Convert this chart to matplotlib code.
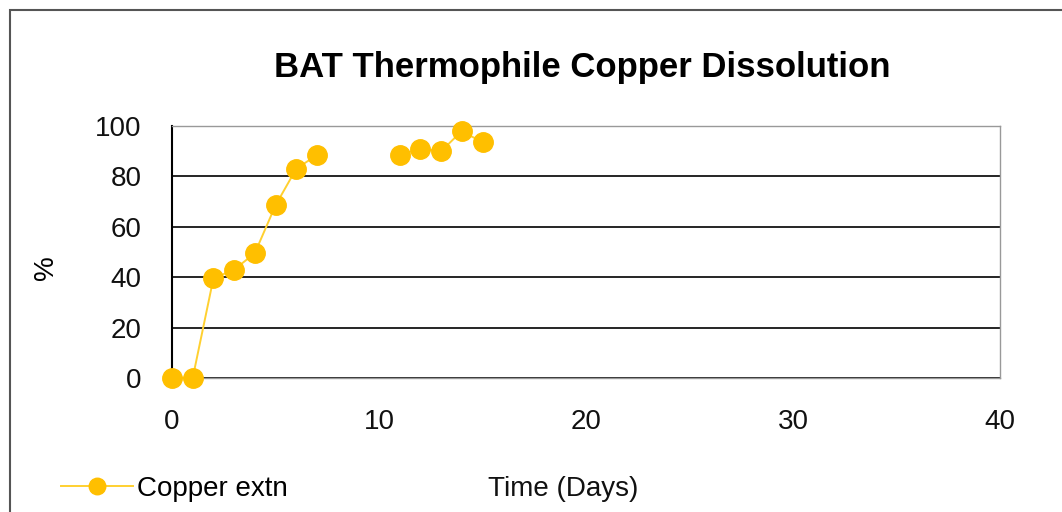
import numpy as np
import matplotlib
matplotlib.use('Agg')
import matplotlib.pyplot as plt
from matplotlib.patches import Rectangle

# data (days 8-10 missing)
days = [0, 1, 2, 3, 4, 5, 6, 7, 8, 9, 10, 11, 12, 13, 14, 15]
copper_extn = [0, 0, 39.5, 43, 49.5, 68.5, 83, 88.5,
               np.nan, np.nan, np.nan, 88.5, 91, 90, 98, 93.5]
x_ticks = [0, 10, 20, 30, 40]
y_ticks = [0, 20, 40, 60, 80, 100]

plt.rcParams['font.family'] = ['Liberation Sans', 'DejaVu Sans']

fig = plt.figure(figsize=(10.62, 5.12), dpi=100)
fig.patch.set_facecolor('white')

# outer chart frame (only top/left visible in the reference)
fig.patches.append(Rectangle((10 / 1062, -0.1), 1.2, 1 - 10 / 512 + 0.1,
                             transform=fig.transFigure, fill=False,
                             edgecolor='#555555', linewidth=1.5))

ax = fig.add_axes([172 / 1062, 1 - 378 / 512, 828 / 1062, 252 / 512])

gold = '#FFBF00'
ax.plot(days, copper_extn, color='#FFD030', linewidth=1.4, marker='o',
        markersize=14, markerfacecolor=gold, markeredgecolor=gold,
        label='Copper extn', zorder=3, clip_on=False)

ax.set_xlim(0, 40)
ax.set_ylim(0, 100)
ax.set_xticks(x_ticks)
ax.set_yticks(y_ticks)
ax.tick_params(length=0, labelsize=20, pad=22, labelcolor='#111111')
ax.yaxis.grid(True, color='black', linewidth=1.2)
ax.set_axisbelow(True)
for side in ['top', 'right', 'bottom']:
    ax.spines[side].set_color('#999999')
    ax.spines[side].set_linewidth(1.0)
ax.spines['left'].set_color('black')
ax.spines['left'].set_linewidth(1.5)

fig.text(582 / 1062, 1 - 68 / 512, 'BAT Thermophile Copper Dissolution',
         ha='center', va='center', fontsize=25, fontweight='bold')
fig.text(46 / 1062, 1 - 268 / 512, '%', ha='center', va='center',
         rotation=90, fontsize=20)
fig.text(563 / 1062, 1 - 489 / 512, 'Time (Days)', ha='center', va='center',
         fontsize=20, color='#111111')

ax.legend(loc='center left', bbox_to_anchor=(47 / 1062, 1 - 489 / 512),
          bbox_transform=fig.transFigure, frameon=False, fontsize=20,
          handlelength=2.6, handletextpad=0.15, borderpad=0, markerscale=0.85)

fig.savefig('out.png', dpi=100, facecolor='white')
